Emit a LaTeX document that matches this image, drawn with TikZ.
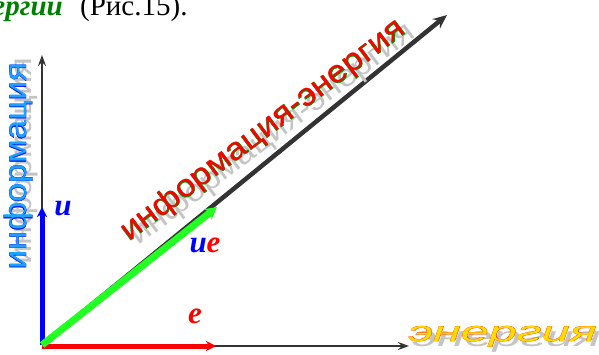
\documentclass[tikz,border=0pt]{standalone}
\usepackage{fontspec}
\setmainfont{Liberation Serif}
\newfontfamily\lsans{Liberation Sans}
\newfontfamily\lsansb[FakeBold=1.0]{Liberation Sans}
\usetikzlibrary{arrows.meta}
\definecolor{axisgray}{HTML}{333333}
\definecolor{shadowgray}{HTML}{C4C4C4}
\definecolor{lblue}{HTML}{1AA3FF}
\definecolor{dblue}{HTML}{0000FF}
\definecolor{egreen}{HTML}{009000}
\definecolor{eyellow}{HTML}{FFDD00}
\definecolor{ered}{HTML}{FF2A00}
\definecolor{vgreen}{HTML}{22FF22}
\definecolor{tgreen}{HTML}{008000}
\tikzset{
  axis/.style={draw=axisgray, line width=2.4pt, -{Stealth[length=11pt,width=8pt,inset=4pt]}},
  diag/.style={draw=axisgray, line width=4.5pt, -{Stealth[length=14pt,width=12pt,inset=5pt]}},
  vecb/.style={draw=blue, line width=5pt, -{Stealth[length=10pt,width=10pt,inset=3pt]}},
  vecr/.style={draw=red, line width=5pt, -{Stealth[length=10pt,width=10pt,inset=3pt]}},
  vecg/.style={draw=vgreen, line width=7pt, -{Stealth[length=12pt,width=13pt,inset=4pt]}},
  lbl/.style={inner sep=0pt, anchor=base, font=\bfseries\itshape\fontsize{31}{33}\selectfont},
  fx/.style={inner sep=0pt},
}
\begin{document}
\begin{tikzpicture}[x=1pt,y=-1pt]
\useasboundingbox (0,0) rectangle (599,355);
\clip (0,0) rectangle (599,355);
% top text (cut off)
\node[fx, anchor=base east, text=tgreen, font=\bfseries\itshape\fontsize{29}{31}\selectfont] (t1) at (63,16) {энергии};
\node[fx, anchor=base west, font=\fontsize{29}{31}\selectfont] (t2) at (80,16) {(Рис.15).};
% points
\coordinate (O) at (42,345);
\coordinate (Ox) at (42,346);
\coordinate (Y) at (42,55);
\coordinate (X) at (409,346);
\coordinate (D) at (447,15);
\coordinate (U) at (42,207);
\coordinate (E) at (216,346);
\coordinate (G) at (217,207);
% axes
\draw[axis] (O) -- (Y);
\draw[axis] (Ox) -- (X);
\draw[diag] (O) -- (D);
% vectors
\draw[vecb] (O) -- (U);
\draw[vecr] (Ox) -- (E);
\draw[vecg] (O) -- (G);
% vector labels
\node[lbl, text=blue] (lu) at (63,215) {u};
\node[lbl] (lue) at (205,252) {\textcolor{blue}{u}\textcolor{red}{e}};
\node[lbl, text=red] (le) at (195,323) {e};
% vertical label
\node[fx, rotate=90, anchor=base, xshift=5pt, yshift=-5pt, text=shadowgray, font=\lsans\fontsize{31}{33}\selectfont, xscale=1.12] (vs) at (26,166) {информация};
\node[fx, rotate=90, anchor=base, text=dblue, font=\lsansb\fontsize{31}{33}\selectfont, xscale=1.12] (vo) at (26,166) {информация};
\node[fx, rotate=90, anchor=base, text=lblue, font=\lsans\fontsize{31}{33}\selectfont, xscale=1.12] (vf) at (26,166) {информация};
% diagonal label
\node[fx, rotate=37, anchor=base, xshift=5pt, yshift=-9pt, text=shadowgray, font=\lsans\fontsize{31}{33}\selectfont, xscale=1.13] (ds) at (268,137) {информация-энергия};
\node[fx, rotate=37, anchor=base, text=egreen, font=\lsansb\fontsize{31}{33}\selectfont, xscale=1.13] (do) at (268,137) {информация-энергия};
\node[fx, rotate=37, anchor=base, text=red, font=\lsans\fontsize{31}{33}\selectfont, xscale=1.13] (df) at (268,137) {информация-энергия};
% energy label
\node[fx, anchor=base west, xshift=4pt, yshift=-5pt, text=shadowgray, font=\lsans\itshape\fontsize{28}{30}\selectfont, xscale=1.8] (es) at (408,341) {энергия};
\node[fx, anchor=base west, text=ered, font=\lsansb\itshape\fontsize{28}{30}\selectfont, xscale=1.8] (eo) at (408,341) {энергия};
\node[fx, anchor=base west, text=eyellow, font=\lsans\itshape\fontsize{28}{30}\selectfont, xscale=1.8] (ef) at (408,341) {энергия};
\end{tikzpicture}
\end{document}
